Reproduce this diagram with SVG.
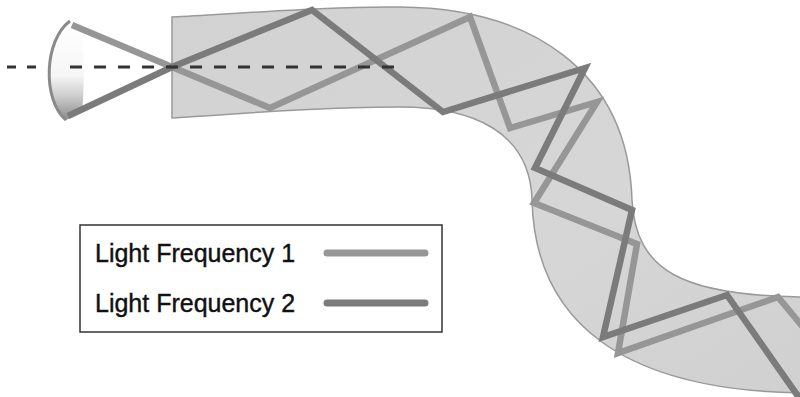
<svg xmlns="http://www.w3.org/2000/svg" width="800" height="397" viewBox="0 0 800 397">
  <defs>
    <linearGradient id="lensFill" x1="0" y1="0" x2="0" y2="1">
      <stop offset="0" stop-color="#ffffff"/>
      <stop offset="0.55" stop-color="#f6f6f6"/>
      <stop offset="0.75" stop-color="#cfcfcf"/>
      <stop offset="1" stop-color="#8c8c8c"/>
    </linearGradient>
    <linearGradient id="fiberFill" x1="0" y1="0" x2="1" y2="1">
      <stop offset="0" stop-color="#d2d2d2"/>
      <stop offset="0.6" stop-color="#d6d6d6"/>
      <stop offset="1" stop-color="#d0d0d0"/>
    </linearGradient>
  </defs>
  <style>
    .ray { fill: none; stroke-width: 6.5; stroke-linejoin: miter; stroke-miterlimit: 4; stroke-linecap: butt; }
    .f1 { stroke: #969696; }
    .f2 { stroke: #7b7b7b; }
    .axis { fill: none; stroke: #333333; stroke-width: 3; }
    .label { font-family: "Liberation Sans", Arial, sans-serif; font-size: 25px; fill: #111111; stroke: #111111; stroke-width: 0.4; }
    .key { stroke-width: 7; stroke-linecap: round; }
  </style>

  <!-- optical fibre core -->
  <g id="fiber">
    <path d="M172,17 C260,12 340,6 400,7 C530,8 628,70 632,200 C636,270 680,297 812,297 L812,393 C620,393 535,320 532,200 C530,130 470,107 400,107 C330,107 260,112 172,118 Z"
          fill="url(#fiberFill)" stroke="#999999" stroke-width="1.5"/>
  </g>

  <!-- focusing lens -->
  <g id="lens">
    <path d="M70,21 C44,40 42,100 66,120 L82,112 C85,80 84,50 80,24 Z" fill="url(#lensFill)"/>
    <path d="M70,21 C44,40 42,100 66,120" fill="none" stroke="#8a8a8a" stroke-width="3"/>
  </g>

  <!-- light paths bouncing along the fibre -->
  <g id="rays">
    <polyline id="ray-frequency-1" class="ray f1"
              points="72,25 172,67 270,108 470,17 510,128 597,102 534,203 637,244 618,353 778,297 812,338"/>
    <polyline id="ray-frequency-2" class="ray f2"
              points="68,116 172,67 312,10 443,112 585,68 535,168 632,210 603,337 727,295 800,399"/>
  </g>

  <!-- optical axis -->
  <g id="axis">
    <line class="axis" x1="7" y1="67" x2="38" y2="67" stroke-dasharray="9 11"/>
    <line class="axis" x1="70" y1="67" x2="398" y2="67" stroke-dasharray="12 12"/>
  </g>

  <!-- legend -->
  <g id="legend">
    <rect x="80" y="225" width="362" height="107" fill="#ffffff" stroke="#333333" stroke-width="1.5"/>
    <text class="label" x="95" y="262">Light Frequency 1</text>
    <line class="key f1" x1="327" y1="253" x2="425" y2="253"/>
    <text class="label" x="95" y="312">Light Frequency 2</text>
    <line class="key f2" x1="327" y1="303" x2="425" y2="303"/>
  </g>
</svg>
